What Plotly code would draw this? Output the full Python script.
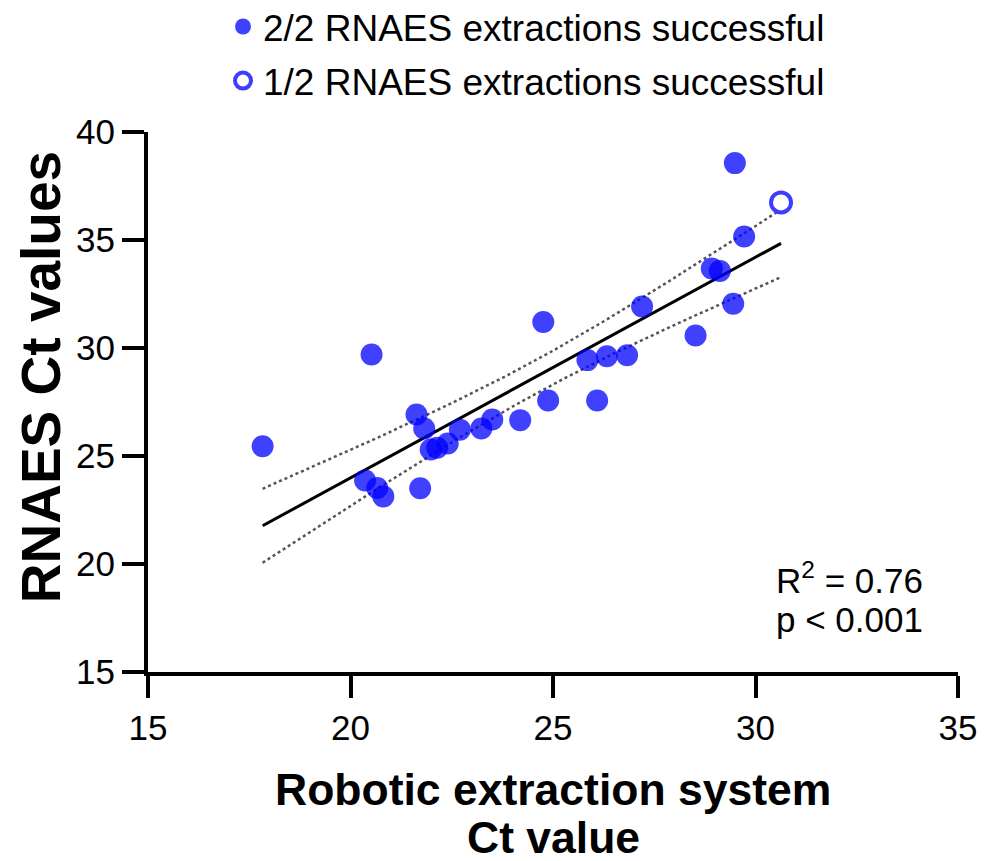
import numpy as np
import plotly.graph_objects as go

# Robotic extraction system Ct (x) vs RNAES Ct (y)
robotic_ct_full = [17.83, 20.52, 20.36, 20.66, 20.81, 21.72, 21.63, 21.82, 21.98, 22.14,
                   22.40, 22.70, 23.23, 23.50, 24.76, 27.20, 29.45, 28.52, 25.85, 26.33,
                   26.83, 24.88, 26.09, 24.19, 29.49, 29.72, 28.92, 29.12]
rnaes_ct_full = [25.45, 29.70, 23.87, 23.52, 23.13, 23.51, 26.92, 26.27, 25.30, 25.38,
                 25.58, 26.22, 26.27, 26.69, 31.20, 31.92, 32.05, 30.58, 29.44, 29.62,
                 29.66, 27.57, 27.57, 26.66, 38.56, 35.16, 33.68, 33.57]
robotic_ct_half = [30.63]
rnaes_ct_half = [36.74]

legend_full = "2/2 RNAES extractions successful"
legend_half = "1/2 RNAES extractions successful"
stats_r2 = "R<sup>2</sup> = 0.76"
stats_p = "p < 0.001"
x_ticks = [15, 20, 25, 30, 35]
y_ticks = [15, 20, 25, 30, 35, 40]

# Linear regression with 95% confidence band
xa = np.array(robotic_ct_full + robotic_ct_half)
ya = np.array(rnaes_ct_full + rnaes_ct_half)
n = len(xa)
slope, intercept = np.polyfit(xa, ya, 1)
resid = ya - (slope * xa + intercept)
s = np.sqrt(np.sum(resid ** 2) / (n - 2))
sxx = np.sum((xa - xa.mean()) ** 2)
t_crit = 2.052
xf = np.linspace(xa.min(), xa.max(), 100)
yf = slope * xf + intercept
half = t_crit * s * np.sqrt(1.0 / n + (xf - xa.mean()) ** 2 / sxx)

FONT = "Liberation Sans, Arial, sans-serif"
BLUE = "rgba(0,0,255,0.75)"

fig = go.Figure()
fig.add_trace(go.Scatter(x=xf, y=yf + half, mode="lines", showlegend=False,
                         line=dict(color="#555555", width=2.5, dash="dot"), hoverinfo="skip"))
fig.add_trace(go.Scatter(x=xf, y=yf - half, mode="lines", showlegend=False,
                         line=dict(color="#555555", width=2.5, dash="dot"), hoverinfo="skip"))
fig.add_trace(go.Scatter(x=xf, y=yf, mode="lines", showlegend=False,
                         line=dict(color="black", width=3), hoverinfo="skip"))
fig.add_trace(go.Scatter(x=robotic_ct_full, y=rnaes_ct_full, mode="markers", name=legend_full,
                         legendgroup="a",
                         marker=dict(size=22, color=BLUE, line=dict(width=0))))
fig.add_trace(go.Scatter(x=robotic_ct_half, y=rnaes_ct_half, mode="markers", name=legend_half,
                         legendgroup="b",
                         marker=dict(size=20, color="white", symbol="circle",
                                     line=dict(width=4, color="#3d3dff"))))

fig.add_annotation(x=30.45, y=19.36, xref="x", yref="y", text=stats_r2, showarrow=False,
                   xanchor="left", yanchor="middle", font=dict(size=35, color="black", family=FONT))
fig.add_annotation(x=30.45, y=17.45, xref="x", yref="y", text=stats_p, showarrow=False,
                   xanchor="left", yanchor="middle", font=dict(size=35, color="black", family=FONT))

fig.add_annotation(x=-0.132, y=0.546, xref="paper", yref="paper", text="<b>RNAES Ct values</b>",
                   textangle=-90, showarrow=False, xanchor="center", yanchor="middle",
                   font=dict(size=55, color="black", family=FONT))
fig.add_annotation(x=0.5, y=-0.2185, xref="paper", yref="paper",
                   text="<b>Robotic extraction system</b>", showarrow=False,
                   xanchor="center", yanchor="middle", font=dict(size=44.5, color="black", family=FONT))
fig.add_annotation(x=0.5, y=-0.307, xref="paper", yref="paper",
                   text="<b>Ct value</b>", showarrow=False,
                   xanchor="center", yanchor="middle", font=dict(size=44.5, color="black", family=FONT))

axis_common = dict(showline=True, linewidth=4, linecolor="black", ticks="outside",
                   ticklen=22, tickwidth=4, tickcolor="black", showgrid=False, zeroline=False,
                   tickfont=dict(size=35, color="black", family=FONT), mirror=False)
fig.update_xaxes(range=[15, 35], tickvals=x_ticks, **axis_common)
fig.update_yaxes(range=[15, 40], tickvals=y_ticks, **axis_common)

fig.update_layout(
    width=986, height=853,
    margin=dict(l=140, r=36, t=124, b=189, autoexpand=False),
    plot_bgcolor="white", paper_bgcolor="white",
    font=dict(family=FONT, color="black"),
    legend=dict(x=0.0926, y=1.252, xref="paper", yref="paper", xanchor="left", yanchor="top",
                font=dict(size=37, family=FONT, color="black"), traceorder="grouped",
                bgcolor="rgba(0,0,0,0)", itemwidth=30, tracegroupgap=3),
)

fig.write_html("out.html")
